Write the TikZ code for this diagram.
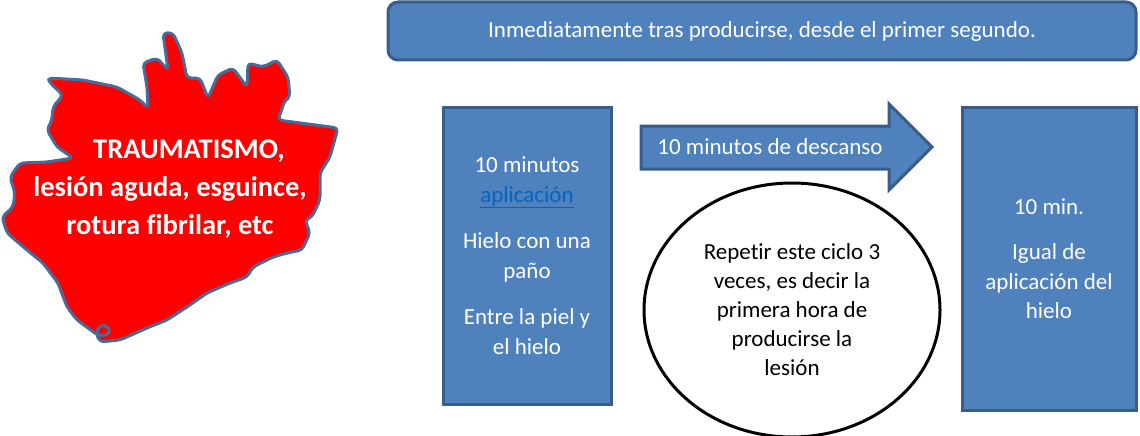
\documentclass[tikz,border=0pt]{standalone}
\usepackage{fontspec}
\setmainfont{Carlito}[Ligatures=NoCommon]
\usetikzlibrary{shapes.geometric}
\definecolor{boxblue}{HTML}{4F81BD}
\definecolor{boxedge}{HTML}{385D8A}
\definecolor{blobedge}{HTML}{4A6A98}
\definecolor{blobred}{HTML}{FF0000}
\definecolor{linkblue}{HTML}{0563C1}
\tikzset{
  bluebox/.style={draw=boxedge, fill=boxblue, line width=3pt, inner sep=0pt},
  boxtext/.style={text=white, align=center, font=\fontsize{23}{29.5}\selectfont, inner sep=0pt},
  blobtext/.style={text=white, align=center, font=\fontsize{28.5}{38}\selectfont\bfseries, inner sep=0pt},
  cycletext/.style={text=black, align=center, font=\fontsize{23}{29}\selectfont, inner sep=0pt},
}
\begin{document}
\begin{tikzpicture}[x=1pt,y=-1pt]
\useasboundingbox (0,0) rectangle (1140,436);
% red blob
\draw[blobedge, line width=3pt, fill=blobred, line join=round, rounded corners=4pt]
 (48,78) -- (83,80) -- (117,87) -- (140,100) -- (148,108) -- (147,87) -- (143,63)
 -- (157,58) -- (168,70) -- (163,33) -- (173,33) -- (182,53) -- (187,78) -- (200,78)
 -- (208,98) -- (218,75) -- (233,68) -- (247,87) -- (248,63) -- (263,67) -- (277,60)
 -- (288,77) -- (290,97) -- (285,100) -- (278,120) -- (338,128) -- (330,157) -- (320,173)
 -- (320,200) -- (312,217) -- (305,220) -- (310,233) -- (302,250) -- (287,253) -- (273,257)
 -- (253,267) -- (247,277) -- (230,283) -- (207,293) -- (187,307) -- (167,320) -- (147,328)
 -- (120,340) -- (100,342) -- (96,333) -- (100,325) -- (108,326) -- (110,334) -- (99,336)
 -- (77,320) -- (67,307) -- (58,283) -- (43,263) -- (27,250) -- (7,233) -- (2,217)
 -- (13,207) -- (15,193) -- (10,177) -- (20,163) -- (47,162) -- (73,158) -- (57,147)
 -- (47,130) -- (52,120) -- (53,107) -- (63,95) -- (50,83) -- cycle;
\node[blobtext] (blob) at (170,189) {\hspace*{38pt}TRAUMATISMO,\\lesión aguda, esguince,\\rotura fibrilar, etc};
% top box
\node[bluebox, rounded corners=10pt, minimum width=748pt, minimum height=58pt] (top) at (762,31) {};
\node[boxtext] (toptext) at (top.center) {Inmediatamente tras producirse, desde el primer segundo.};
% left box
\node[bluebox, minimum width=168pt, minimum height=297pt] (left) at (527,255.5) {};
\node[boxtext] (lefttext) at (left.center) {10 minutos\\{\color{linkblue}\underline{aplicación}}\\[17pt]Hielo con una\\paño\\[17pt]Entre la piel y\\el hielo};
% arrow
\draw[bluebox] (641,126) coordinate (a1) -- (889,126) -- (889,104) -- (932,147) coordinate (tip) -- (889,190) -- (889,169) -- (641,169) -- cycle;
\node[boxtext] (arrowtext) at (770,147) {10 minutos de descanso};
% ellipse
\node[ellipse, draw=black, fill=white, line width=3pt, minimum width=296pt, minimum height=254pt, inner sep=0pt] (cyc) at (792,310) {};
\node[cycletext] (cyctext) at (792,310) {Repetir este ciclo 3\\veces, es decir la\\primera hora de\\producirse la\\lesión};
% right box
\node[bluebox, minimum width=174pt, minimum height=303pt] (right) at (1049,258.5) {};
\node[boxtext] (righttext) at (right.center) {10 min.\\[16pt]Igual de\\aplicación del\\hielo};
\end{tikzpicture}
\end{document}
